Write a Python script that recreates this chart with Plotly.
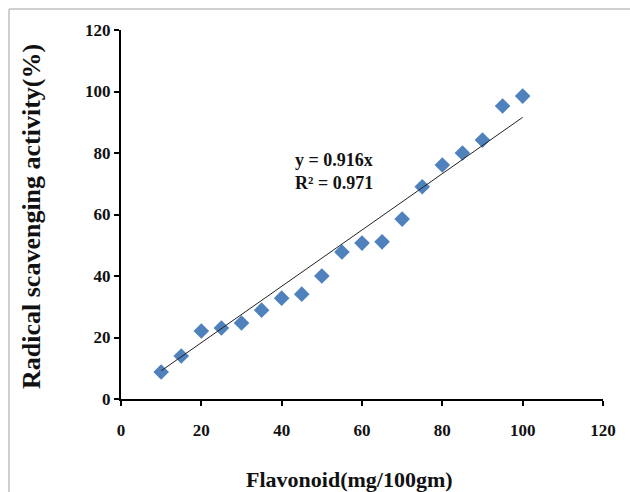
import plotly.graph_objects as go

flavonoid = [10, 15, 20, 25, 30, 35, 40, 45, 50, 55, 60, 65, 70, 75, 80, 85, 90, 95, 100]
activity = [8.8, 14.0, 22.1, 23.1, 24.7, 28.9, 32.8, 34.1, 40.0, 47.8, 50.7, 51.1, 58.5, 69.0, 76.1, 80.0, 84.2, 95.3, 98.5]
slope = 0.916
trend_x = [min(flavonoid), max(flavonoid)]
trend_y = [slope * v for v in trend_x]
x_ticks = [0, 20, 40, 60, 80, 100, 120]
y_ticks = [0, 20, 40, 60, 80, 100, 120]

font_family = "Liberation Serif"
L, R, T, B = 121, 603, 30, 399
W, H = R - L, B - T

fig = go.Figure()
fig.add_trace(go.Scatter(
    x=flavonoid, y=activity, mode="markers",
    marker=dict(symbol="diamond", size=12, color="#4F81BD"),
    showlegend=False,
))
fig.add_trace(go.Scatter(
    x=trend_x, y=trend_y, mode="lines",
    line=dict(color="#222222", width=1),
    showlegend=False,
))

fig.add_annotation(
    x=(293 - L) / W, y=(B - 171) / H, xref="paper", yref="paper",
    xanchor="left", yanchor="middle",
    text="<b>y = 0.916x<br>R² = 0.971</b>", showarrow=False, align="left",
    font=dict(family=font_family, size=18, color="#111111"),
)
# axis titles
fig.add_annotation(
    x=(349 - L) / W, y=(B - 479) / H, xref="paper", yref="paper",
    xanchor="center", yanchor="middle", showarrow=False,
    text="<b>Flavonoid(mg/100gm)</b>",
    font=dict(family=font_family, size=22, color="#111111"),
)
fig.add_annotation(
    x=(31 - L) / W, y=(B - 217) / H, xref="paper", yref="paper",
    xanchor="center", yanchor="middle", showarrow=False, textangle=-90,
    text="<b>Radical scavenging activity(%)</b>",
    font=dict(family=font_family, size=26, color="#111111"),
)

fig.add_shape(type="rect", xref="paper", yref="paper",
              x0=(9 - L) / W, x1=(800 - L) / W,
              y0=(B - 700) / H, y1=(B - 9) / H,
              line=dict(color="#a0a0a0", width=1), layer="below")

fig.update_xaxes(
    range=[0, 120], tickvals=x_ticks, showgrid=False, zeroline=False,
    showline=True, linecolor="black", linewidth=2, automargin=False,
    ticks="outside", ticklen=5, tickwidth=2, tickcolor="black",
    ticklabelstandoff=10,
    tickfont=dict(family=font_family, size=17, color="#111111", weight="bold"),
)
fig.update_yaxes(
    range=[0, 120], tickvals=y_ticks, showgrid=False, zeroline=False,
    showline=True, linecolor="black", linewidth=2, automargin=False,
    ticks="outside", ticklen=5, tickwidth=2, tickcolor="black",
    tickfont=dict(family=font_family, size=17, color="#111111", weight="bold"),
)

fig.update_layout(
    width=630, height=492,
    margin=dict(l=L, r=630 - R, t=T, b=492 - B),
    paper_bgcolor="white", plot_bgcolor="white",
)

fig.write_html("out.html")
